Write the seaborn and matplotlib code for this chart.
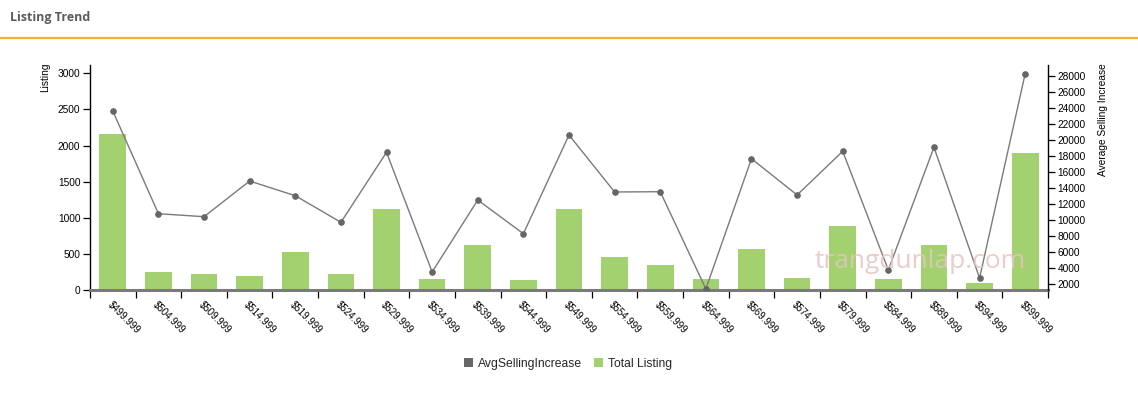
import numpy as np
import pandas as pd
import matplotlib
matplotlib.use("Agg")
import matplotlib.pyplot as plt
from matplotlib.patches import Patch
from matplotlib.lines import Line2D
import seaborn as sns

categories = ["$499.999", "$504.999", "$509.999", "$514.999", "$519.999", "$524.999",
              "$529.999", "$534.999", "$539.999", "$544.999", "$549.999", "$554.999",
              "$559.999", "$564.999", "$569.999", "$574.999", "$579.999", "$584.999",
              "$589.999", "$594.999", "$599.999"]
total_listing = [2165, 250, 222, 195, 528, 222, 1122, 152, 623, 140, 1122, 458,
                 348, 152, 568, 166, 888, 152, 623, 97, 1897]
avg_selling_increase = [23650, 10775, 10400, 14870, 13030, 9700, 18470, 3470, 12490,
                        8270, 20640, 13500, 13530, 1350, 17670, 13120, 18600, 3720,
                        19100, 2715, 28330]
left_ticks = [0, 500, 1000, 1500, 2000, 2500, 3000]
right_ticks = list(range(2000, 28001, 2000))

sns.set_theme(style="white")
plt.rcParams['font.family'] = ['Liberation Sans', 'DejaVu Sans']

W, H = 1138, 396
fig = plt.figure(figsize=(W / 100, H / 100), dpi=100)
fig.patch.set_facecolor("white")

x0, x1, y_top, y_bot = 90, 1048, 64.5, 290
ax = fig.add_axes([x0 / W, 1 - y_bot / H, (x1 - x0) / W, (y_bot - y_top) / H])

df = pd.DataFrame({"cat": categories, "listing": total_listing, "avg": avg_selling_increase})
bar_color = "#a3d16f"
sns.barplot(data=df, x="cat", y="listing", ax=ax, color=bar_color, width=0.585,
            saturation=1, edgecolor="none")
ax.set_xlim(-0.5, len(categories) - 0.5)
ax.set_ylim(0, 3123)
ax.set_yticks(left_ticks)
ax.set_yticklabels([str(t) for t in left_ticks], fontsize=7.3, color="black")
ax.set_xlabel("")
ax.set_ylabel("")

ax2 = ax.twinx()
xpos = np.arange(len(categories))
sns.lineplot(x=xpos, y=avg_selling_increase, ax=ax2, color="#7a7a7a", linewidth=1.0,
             marker="o", markersize=4.0, markerfacecolor="#666666", markeredgecolor="#666666")
ax2.set_ylim(1210, 29480)
ax2.set_yticks(right_ticks)
ax2.set_yticklabels([str(t) for t in right_ticks], fontsize=7.3, color="black")
ax2.set_xlim(-0.5, len(categories) - 0.5)

for a in (ax, ax2):
    for s in ("top", "bottom", "left", "right"):
        a.spines[s].set_visible(False)
    a.grid(False)
    a.set_facecolor("none")

ax.spines["left"].set_visible(True)
ax.spines["left"].set_color("black")
ax.spines["left"].set_linewidth(1.0)
ax2.spines["right"].set_visible(True)
ax2.spines["right"].set_color("black")
ax2.spines["right"].set_linewidth(1.0)
ax.spines["bottom"].set_visible(True)
ax.spines["bottom"].set_color("#7a7a7a")
ax.spines["bottom"].set_linewidth(2.2)

ax.tick_params(axis="y", direction="out", length=5, width=0.9, color="black", pad=2, left=True)
ax2.tick_params(axis="y", direction="out", length=5, width=0.9, color="black", pad=2, right=True)

# x: labels at band centers, tick marks at band edges
ax.set_xticks(xpos)
ax.set_xticks(np.arange(-0.5, len(categories), 1.0), minor=True)
ax.tick_params(axis="x", which="major", length=0, pad=7)
ax.tick_params(axis="x", which="minor", direction="out", length=6, width=0.9,
               color="black", bottom=True)
ax.set_xticklabels(categories, fontsize=7.0, color="black", rotation=-45,
                   ha="left", va="top", rotation_mode="anchor")
ax2.tick_params(axis="x", which="both", bottom=False, labelbottom=False)

# axis titles
fig.text(45 / W, 1 - 63 / H, "Listing", rotation=90, ha="center", va="top",
         fontsize=7.3, color="black")
fig.text(1103 / W, 1 - 63 / H, "Average Selling Increase", rotation=90, ha="center",
         va="top", fontsize=7.3, color="black")

# header
fig.text(10 / W, 1 - 18 / H, "Listing Trend", ha="left", va="center", fontsize=9.0,
         fontweight="bold", color="#5b5b5b", family=["Open Sans", "DejaVu Sans"])
fig.add_artist(Line2D([0, 1], [1 - 37.5 / H, 1 - 37.5 / H], transform=fig.transFigure,
                      color="#f5b22e", linewidth=1.6))

# watermark
fig.text(815 / W, 1 - 262 / H, "trangdunlap.com", ha="left", va="center", fontsize=19.0,
         color="#e6c4c4", alpha=0.85, zorder=0.5, family=["Open Sans", "DejaVu Sans"])

handles = [Patch(facecolor="#666666", edgecolor="none", label="AvgSellingIncrease"),
           Patch(facecolor=bar_color, edgecolor="none", label="Total Listing")]
fig.legend(handles=handles, loc="center", bbox_to_anchor=(568 / W, 1 - 364 / H), ncol=2,
           frameon=False, fontsize=8.7, handlelength=0.75, handleheight=0.75,
           handletextpad=0.4, columnspacing=1.0)

fig.savefig("out.png", dpi=100, facecolor="white")
